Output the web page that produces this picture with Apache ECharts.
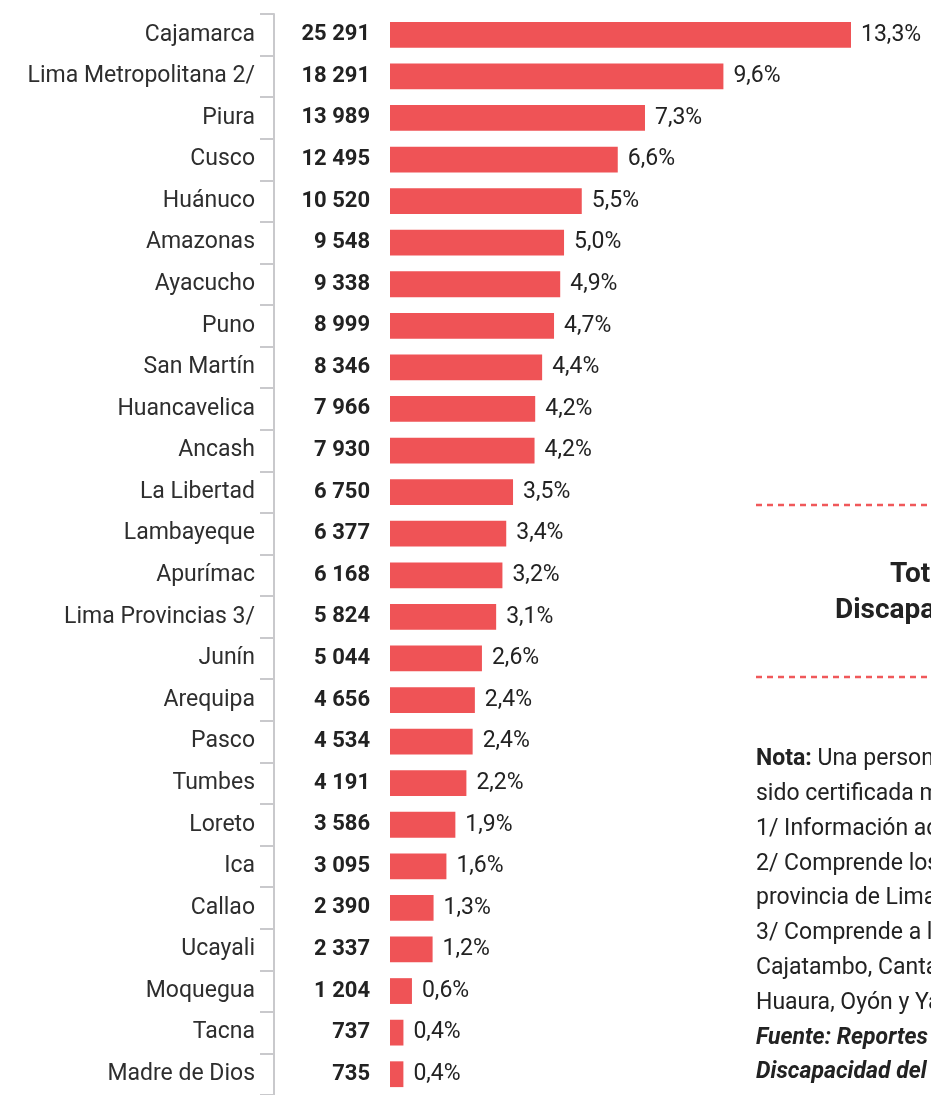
<!DOCTYPE html>
<html>
<head>
<meta charset="utf-8">
<script src="https://cdn.jsdelivr.net/npm/echarts@6/dist/echarts.min.js"></script>
<style>
  html, body { margin: 0; padding: 0; background: #fff; }
  #chart { width: 931px; height: 1095px; }
</style>
</head>
<body>
<div id="chart"></div>
<script>
// regiones (de mayor a menor)
var regions = [
  "Cajamarca", "Lima Metropolitana 2/", "Piura", "Cusco", "Huánuco", "Amazonas",
  "Ayacucho", "Puno", "San Martín", "Huancavelica", "Ancash", "La Libertad",
  "Lambayeque", "Apurímac", "Lima Provincias 3/", "Junín", "Arequipa", "Pasco",
  "Tumbes", "Loreto", "Ica", "Callao", "Ucayali", "Moquegua", "Tacna", "Madre de Dios"
];
// personas certificadas
var values = [
  25291, 18291, 13989, 12495, 10520, 9548,
  9338, 8999, 8346, 7966, 7930, 6750,
  6377, 6168, 5824, 5044, 4656, 4534,
  4191, 3586, 3095, 2390, 2337, 1204, 737, 735
];
// porcentaje del total
var percents = [
  "13,3", "9,6", "7,3", "6,6", "5,5", "5,0",
  "4,9", "4,7", "4,4", "4,2", "4,2", "3,5",
  "3,4", "3,2", "3,1", "2,6", "2,4", "2,4",
  "2,2", "1,9", "1,6", "1,3", "1,2", "0,6", "0,4", "0,4"
];
// notas del lado derecho
var notes = [
  ["Nota:", " Una persona registrada puede haber"],
  ["", "sido certificada más de una vez."],
  ["", "1/ Información acumulada al cierre."],
  ["", "2/ Comprende los 43 distritos de la"],
  ["", "provincia de Lima."],
  ["", "3/ Comprende a las provincias de Barranca,"],
  ["", "Cajatambo, Canta, Cañete, Huaral,"],
  ["", "Huaura, Oyón y Yauyos."]
];
var sources = [
  "Fuente: Reportes del Registro Nacional",
  "Discapacidad del CONADIS."
];

function fmtNum(v) {
  return String(v).replace(/\B(?=(\d{3})+(?!\d))/g, " ");
}

var FONT = "Roboto";
var myChart = echarts.init(document.getElementById("chart"));

var graphics = [
  // lineas punteadas
  {
    type: "line",
    shape: { x1: 756, y1: 505, x2: 931, y2: 505 },
    style: { stroke: "#f0585a", lineWidth: 2.5, lineDash: [6, 5] }
  },
  {
    type: "line",
    shape: { x1: 756, y1: 677, x2: 931, y2: 677 },
    style: { stroke: "#f0585a", lineWidth: 2.5, lineDash: [6, 5] }
  },
  {
    type: "text",
    left: 890, top: 561,
    style: { text: "Total de personas", font: "bold 28px " + FONT, fill: "#222" }
  },
  {
    type: "text",
    left: 835, top: 597,
    style: { text: "Discapacidad certificada", font: "bold 28px " + FONT, fill: "#222" }
  }
];

var noteTop = 748;
var lineH = 34.8;
notes.forEach(function (n, i) {
  graphics.push({
    type: "text",
    left: 756, top: noteTop + i * lineH,
    style: {
      text: n[0] ? "{b|" + n[0] + "}{r|" + n[1] + "}" : "{r|" + n[1] + "}",
      rich: {
        b: { font: "bold 23px " + FONT, fill: "#222" },
        r: { font: "23px " + FONT, fill: "#222" }
      }
    }
  });
});
sources.forEach(function (s, i) {
  graphics.push({
    type: "text",
    left: 756, top: noteTop + (notes.length + i) * lineH,
    style: { text: s, font: "italic bold 23px " + FONT, fill: "#222" }
  });
});

var option = {
  animation: false,
  grid: { left: 390, right: 80, top: 14, bottom: -8 },
  xAxis: {
    type: "value",
    min: 0,
    max: "dataMax",
    show: false
  },
  yAxis: [
    {
      type: "category",
      data: regions,
      inverse: true,
      position: "left",
      offset: 116,
      axisLine: { show: true, onZero: false, lineStyle: { color: "#c9c9cc", width: 2 } },
      axisTick: { show: true, length: 14, lineStyle: { color: "#c9c9cc", width: 2 } },
      axisLabel: { margin: 19, fontFamily: FONT, fontSize: 23, color: "#2e2e2e" }
    },
    {
      type: "category",
      data: regions,
      inverse: true,
      position: "left",
      offset: 0,
      axisLine: { show: false, onZero: false },
      axisTick: { show: false },
      axisLabel: {
        margin: 20,
        fontFamily: FONT,
        fontSize: 22,
        fontWeight: "bold",
        color: "#222",
        formatter: function (v, i) { return fmtNum(values[i]); }
      }
    }
  ],
  series: [
    {
      type: "bar",
      data: values,
      yAxisIndex: 0,
      barCategoryGap: "38%",
      itemStyle: { color: "#ef5356" },
      label: {
        show: true,
        position: "right",
        distance: 10,
        fontFamily: FONT,
        fontSize: 23,
        color: "#222",
        formatter: function (p) { return percents[p.dataIndex] + "%"; }
      }
    }
  ],
  graphic: graphics
};

myChart.setOption(option);
</script>
</body>
</html>
